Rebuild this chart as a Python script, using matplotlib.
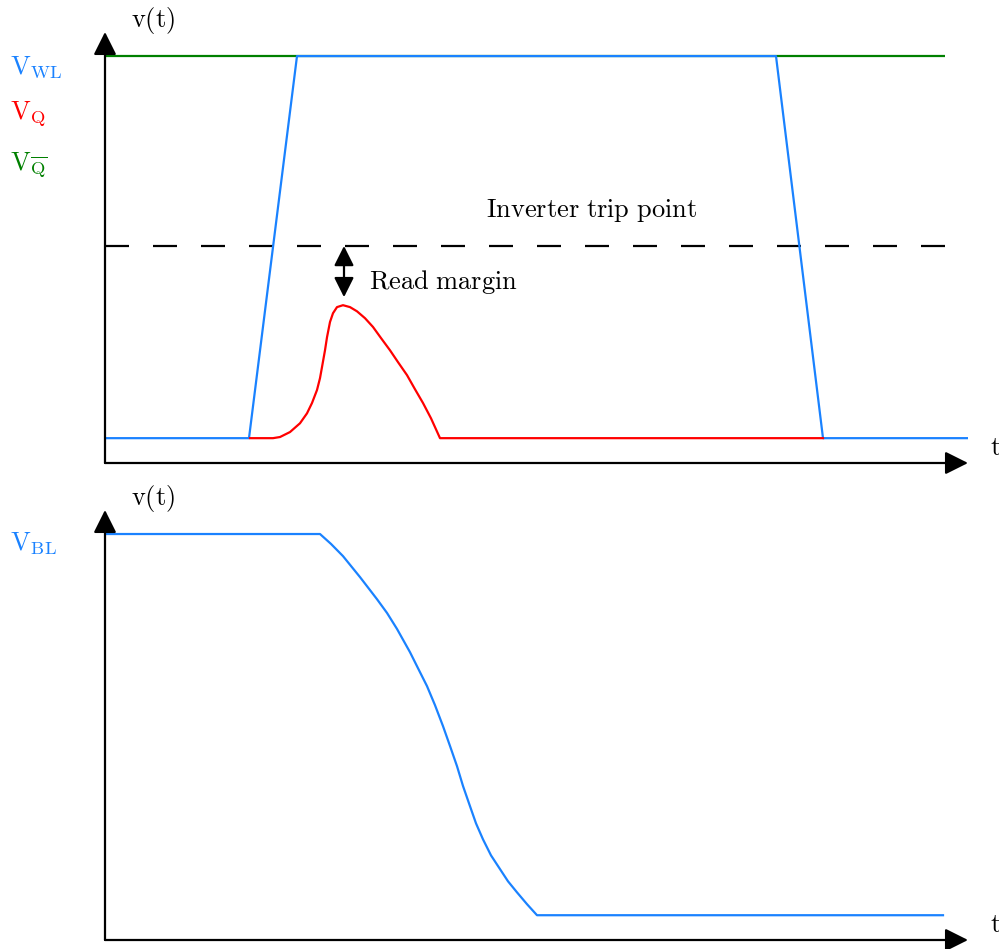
import matplotlib
matplotlib.use('Agg')
import matplotlib.pyplot as plt
import numpy as np

plt.rcParams['mathtext.fontset'] = 'cm'
plt.rcParams['font.family'] = 'serif'
plt.rcParams['font.serif'] = ['DejaVu Serif']

BLUE = '#1a82ff'
RED = '#ff0000'
GREEN = '#008000'

# --- data (time in arbitrary units, voltage normalised to VDD) ---
t_wl = [0.0, 1.44, 1.92, 6.71, 7.18, 8.63]
v_wl = [0.0, 0.0, 1.0, 1.0, 0.0, 0.0]

t_qbar = [0.0, 8.40]
v_qbar = [1.0, 1.0]

t_q = [1.45, 1.68, 1.75, 1.85, 1.95, 2.02, 2.07, 2.12, 2.15, 2.17, 2.20, 2.22, 2.25, 2.28,
       2.32, 2.38, 2.45, 2.52, 2.60, 2.68, 2.76, 2.85, 2.93, 3.02, 3.10, 3.18, 3.26, 3.35, 7.18]
v_q = [0.0, 0.0, 0.003, 0.016, 0.039, 0.065, 0.092, 0.126, 0.157, 0.186, 0.230, 0.264, 0.304, 0.327,
       0.343, 0.348, 0.343, 0.332, 0.314, 0.291, 0.262, 0.230, 0.199, 0.165, 0.128, 0.092, 0.052, 0.0, 0.0]

trip_t = [0.0, 8.40]
trip_v = 0.503

t_bl = [0.0, 2.15, 2.26, 2.38, 2.55, 2.72, 2.82, 2.92, 3.05, 3.13, 3.22, 3.30, 3.38, 3.45,
        3.52, 3.58, 3.65, 3.71, 3.78, 3.86, 3.95, 4.03, 4.12, 4.22, 4.32, 8.38]
v_bl = [1.0, 1.0, 0.974, 0.942, 0.887, 0.829, 0.793, 0.751, 0.690, 0.648, 0.601, 0.551, 0.496, 0.444,
        0.391, 0.339, 0.286, 0.241, 0.199, 0.157, 0.121, 0.089, 0.060, 0.029, 0.0, 0.0]

margin_t = 2.39
margin_v = (0.369, 0.503)

W, H = 999, 949
fig = plt.figure(figsize=(W / 100, H / 100), dpi=100)
FS = 19
LW = 1.6

def make_axes(top_px, bot_px):
    ax = fig.add_axes([105 / W, (H - bot_px) / H, (968 - 105) / W, (bot_px - top_px) / H])
    ax.set_xlim(0, 8.63)
    ax.set_ylim(-0.065, 1.063)
    ax.axis('off')
    arrow = dict(arrowstyle='-|>,head_length=0.7,head_width=0.35', color='black', lw=1.6,
                 shrinkA=0, shrinkB=0, mutation_scale=20)
    ax.annotate('', xy=(1, 0), xytext=(0, 0), xycoords='axes fraction',
                arrowprops=arrow, annotation_clip=False)
    ax.annotate('', xy=(0, 1), xytext=(0, 0), xycoords='axes fraction',
                arrowprops=arrow, annotation_clip=False)
    ax.text(0.26, 1.094, r'$\mathrm{v(t)}$', fontsize=FS, ha='left', va='center', clip_on=False)
    ax.text(8.85, -0.024, r'$\mathrm{t}$', fontsize=FS, ha='left', va='center', clip_on=False)
    return ax

# top panel
ax1 = make_axes(32, 463)
ax1.plot(t_qbar, v_qbar, color=GREEN, lw=LW, solid_capstyle='butt')
ax1.plot(trip_t, [trip_v, trip_v], color='black', lw=LW, dashes=(10.8, 10.8))
ax1.plot(t_q, v_q, color=RED, lw=LW, zorder=3, solid_joinstyle='round')
ax1.plot(t_wl, v_wl, color=BLUE, lw=LW, zorder=2)
ax1.annotate('', xy=(margin_t, margin_v[0]), xytext=(margin_t, margin_v[1]),
             arrowprops=dict(arrowstyle='<|-|>,head_length=0.6,head_width=0.3', color='black',
                             lw=1.6, shrinkA=0, shrinkB=0, mutation_scale=20))
ax1.text(2.64, 0.408, r'$\mathrm{Read\ margin}$', fontsize=FS, ha='left', va='center')
ax1.text(4.87, 0.597, r'$\mathrm{Inverter\ trip\ point}$', fontsize=FS, ha='center', va='center')
ax1.text(-0.95, 0.971, r'$\mathrm{V_{WL}}$', fontsize=FS, color=BLUE, ha='left', va='center', clip_on=False)
ax1.text(-0.95, 0.846, r'$\mathrm{V_{Q}}$', fontsize=FS, color=RED, ha='left', va='center', clip_on=False)
ax1.text(-0.95, 0.715, r'$\mathrm{V_{\overline{Q}}}$', fontsize=FS, color=GREEN, ha='left', va='center', clip_on=False)

# bottom panel
ax2 = make_axes(510, 940)
ax2.plot(t_bl, v_bl, color=BLUE, lw=LW, solid_joinstyle='round')
ax2.text(-0.95, 0.974, r'$\mathrm{V_{BL}}$', fontsize=FS, color=BLUE, ha='left', va='center', clip_on=False)

fig.savefig('out.png', dpi=100)
